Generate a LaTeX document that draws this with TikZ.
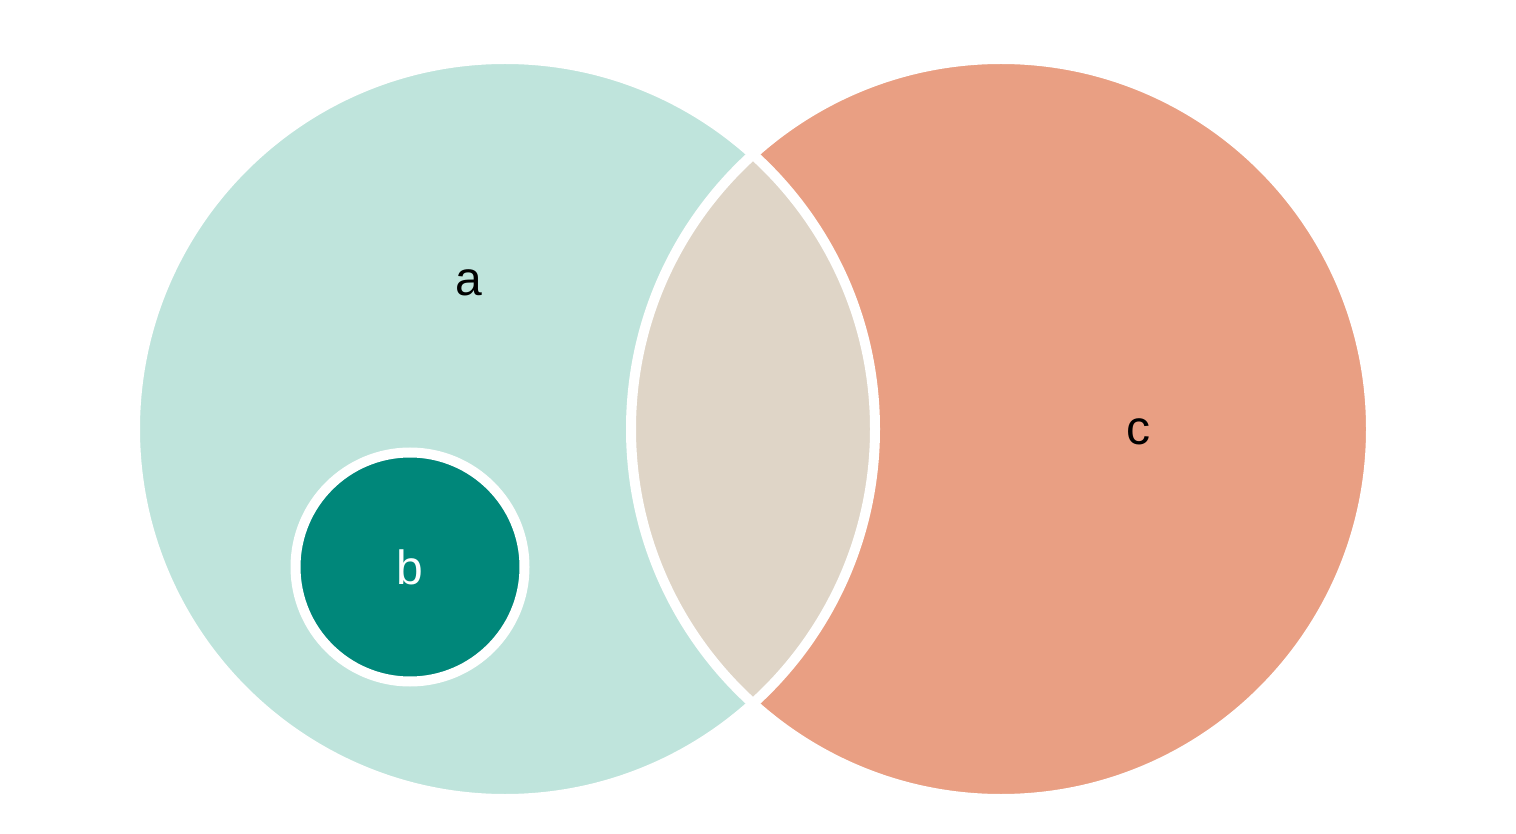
\documentclass[tikz,border=0pt]{standalone}
\usepackage{fontspec}
\setmainfont{Liberation Sans}
\definecolor{SetA}{RGB}{191,228,220}
\definecolor{SetB}{RGB}{0,135,122}
\definecolor{SetC}{RGB}{233,159,131}
\definecolor{SetAC}{RGB}{223,213,199}
\usetikzlibrary{positioning}

\begin{document}
\begin{tikzpicture}[
    x=0.5pt, y=-0.5pt,
    every node/.style={font=\fontsize{24}{28}\selectfont, inner sep=0pt},
    bigset/.style={circle, minimum size=370pt},
    smallset/.style={circle, minimum size=114.5pt},
    rim/.style={draw=white, line width=5pt}
]
\useasboundingbox (0,0) rectangle (1516,834);
% set fills
\node[bigset, fill=SetA] (a) at (505,429) {};
\node[bigset, fill=SetC] (c) at (1001,429) {};
\begin{scope}
  \clip (505,429) circle (185pt);
  \fill[SetAC] (1001,429) circle (185pt);
\end{scope}
% white rims on top
\node[bigset, rim] at (a) {};
\node[bigset, rim] at (c) {};
\node[smallset, fill=SetB, rim] (b) at (410,567) {};
% labels
\node (la) at (469,283) {a};
\node (lc) at (1138,432) {c};
\node[text=white] (lb) at (b) {b};
\end{tikzpicture}
\end{document}
